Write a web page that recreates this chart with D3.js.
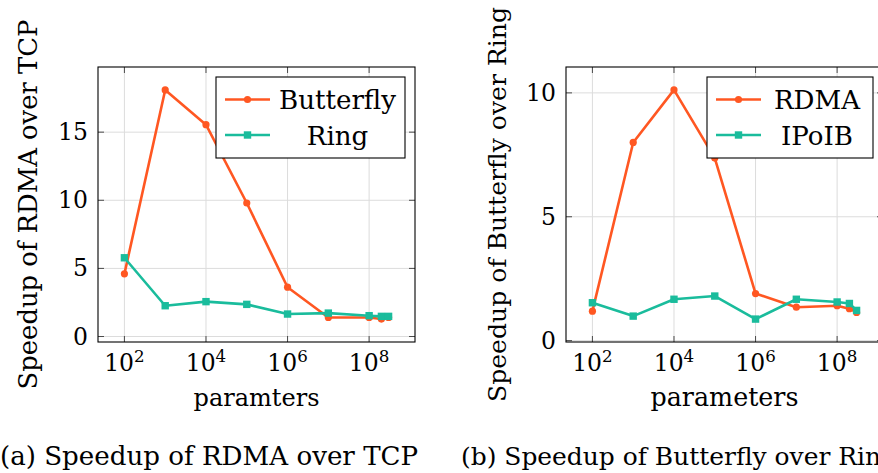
<!DOCTYPE html>
<html>
<head>
<meta charset="utf-8">
<script src="https://cdn.jsdelivr.net/npm/d3@7"></script>
<style>
  body { margin: 0; background: #fff; }
  svg { display: block; }
  text { font-family: "DejaVu Serif", "Liberation Serif", "Noto Serif", serif; fill: #000; }
</style>
</head>
<body>
<svg id="chart" width="878" height="473"></svg>
<script>
// Model sizes (number of parameters) used for every measurement
const params = [1e2, 1e3, 1e4, 1e5, 1e6, 1e7, 1e8, 2e8, 3e8];

// (a) speedup of RDMA over TCP, per allreduce algorithm
const butterflyRdmaOverTcp = [4.6, 18.1, 15.55, 9.8, 3.62, 1.40, 1.40, 1.28, 1.40];
const ringRdmaOverTcp      = [5.78, 2.26, 2.56, 2.36, 1.65, 1.72, 1.53, 1.48, 1.48];

// (b) speedup of Butterfly over Ring, per transport
const rdmaButterflyOverRing  = [1.19, 8.0, 10.12, 7.37, 1.90, 1.35, 1.41, 1.29, 1.14];
const ipoibButterflyOverRing = [1.53, 0.99, 1.67, 1.80, 0.87, 1.67, 1.56, 1.50, 1.22];

// Axis ticks and labels
const xTickExponents = [2, 4, 6, 8];
const yTicksA = [0, 5, 10, 15];
const yTicksB = [0, 5, 10];

const ORANGE = "#ff5722";
const TEAL = "#1abc9c";

const svg = d3.select("#chart");

// Base text size: the first caption should span about 418px in the available serif face
const probe = svg.append("text").attr("font-size", 30).text("(a) Speedup of RDMA over TCP");
const FS = 30 * 418 / probe.node().getComputedTextLength();
probe.remove();
const TICK_FS = FS * 0.9;
const SUP_FS = FS * 0.64;

// Resize a text so it spans the given width
function fitWidth(sel, width) {
  const w = sel.node().getComputedTextLength();
  const fs = +sel.attr("font-size");
  sel.attr("font-size", fs * width / w);
  return sel;
}

const panels = [
  {
    frame: { left: 98, top: 67, right: 415, bottom: 342 },
    series: [
      { name: "Butterfly", values: butterflyRdmaOverTcp, color: ORANGE, marker: "circle" },
      { name: "Ring", values: ringRdmaOverTcp, color: TEAL, marker: "square" }
    ],
    yTicks: yTicksA,
    yTitle: "Speedup of RDMA over TCP",
    yTitleW: 370,
    yTitleX: 37,
    xTitle: "paramters",
    xTitleW: 126,
    caption: "(a) Speedup of RDMA over TCP",
    captionW: 418,
    captionX: 0,
    legend: { x: 216, y: 77, w: 189, h: 81 }
  },
  {
    frame: { left: 566, top: 67, right: 883, bottom: 342 },
    series: [
      { name: "RDMA", values: rdmaButterflyOverRing, color: ORANGE, marker: "circle" },
      { name: "IPoIB", values: ipoibButterflyOverRing, color: TEAL, marker: "square" }
    ],
    yTicks: yTicksB,
    yTitle: "Speedup of Butterfly over Ring",
    yTitleW: 395,
    yTitleX: 506,
    xTitle: "parameters",
    xTitleW: 148,
    caption: "(b) Speedup of Butterfly over Ring",
    captionW: 436,
    captionX: 461,
    legend: { x: 707, y: 77, w: 166, h: 81 }
  }
];

// Limits enlarged by 10% of the data range on each side
function enlarged(lo, hi) {
  const pad = (hi - lo) * 0.1;
  return [lo - pad, hi + pad];
}

function drawMarker(g, type, x, y, color) {
  if (type === "circle") {
    g.append("circle").attr("cx", x).attr("cy", y).attr("r", 3.6).attr("fill", color);
  } else {
    const s = 7.4;
    g.append("rect").attr("x", x - s / 2).attr("y", y - s / 2)
      .attr("width", s).attr("height", s).attr("fill", color);
  }
}

panels.forEach(p => {
  const f = p.frame;
  const g = svg.append("g");

  const lx = enlarged(Math.log10(d3.min(params)), Math.log10(d3.max(params)));
  const x = d3.scaleLog().domain([10 ** lx[0], 10 ** lx[1]]).range([f.left, f.right]);

  const all = p.series.flatMap(s => s.values);
  const y = d3.scaleLinear().domain(enlarged(d3.min(all), d3.max(all))).range([f.bottom, f.top]);

  const xTicks = xTickExponents.map(e => 10 ** e);

  // grid
  const grid = g.append("g").attr("stroke", "#dcdcdc").attr("stroke-width", 1);
  xTicks.forEach(t => grid.append("line")
    .attr("x1", x(t)).attr("x2", x(t)).attr("y1", f.top).attr("y2", f.bottom));
  p.yTicks.forEach(t => grid.append("line")
    .attr("x1", f.left).attr("x2", f.right).attr("y1", y(t)).attr("y2", y(t)));

  // tick marks on all four sides, pointing inward
  const tl = 6;
  const ticks = g.append("g").attr("stroke", "#4a4a4a").attr("stroke-width", 1);
  xTicks.forEach(t => {
    ticks.append("line").attr("x1", x(t)).attr("x2", x(t)).attr("y1", f.bottom).attr("y2", f.bottom - tl);
    ticks.append("line").attr("x1", x(t)).attr("x2", x(t)).attr("y1", f.top).attr("y2", f.top + tl);
  });
  p.yTicks.forEach(t => {
    ticks.append("line").attr("x1", f.left).attr("x2", f.left + tl).attr("y1", y(t)).attr("y2", y(t));
    ticks.append("line").attr("x1", f.right).attr("x2", f.right - tl).attr("y1", y(t)).attr("y2", y(t));
  });

  // frame
  g.append("rect")
    .attr("x", f.left).attr("y", f.top)
    .attr("width", f.right - f.left).attr("height", f.bottom - f.top)
    .attr("fill", "none").attr("stroke", "#000").attr("stroke-width", 1.1);

  // x tick labels 10^n
  xTickExponents.forEach(e => {
    const t = g.append("text")
      .attr("x", x(10 ** e)).attr("y", 371)
      .attr("text-anchor", "middle").attr("font-size", TICK_FS);
    t.append("tspan").text("10");
    t.append("tspan").attr("dy", -9.5).attr("font-size", SUP_FS).text(e);
  });

  // y tick labels
  p.yTicks.forEach(t => {
    g.append("text")
      .attr("x", f.left - 10).attr("y", y(t) + 8)
      .attr("text-anchor", "end").attr("font-size", TICK_FS)
      .text(t);
  });

  // axis titles
  fitWidth(g.append("text")
    .attr("x", (f.left + f.right) / 2).attr("y", 406)
    .attr("text-anchor", "middle").attr("font-size", FS)
    .text(p.xTitle), p.xTitleW);

  fitWidth(g.append("text")
    .attr("transform", `translate(${p.yTitleX},${(f.top + f.bottom) / 2}) rotate(-90)`)
    .attr("text-anchor", "middle").attr("font-size", FS)
    .text(p.yTitle), p.yTitleW);

  // caption
  fitWidth(svg.append("text")
    .attr("x", p.captionX).attr("y", 465)
    .attr("font-size", FS)
    .text(p.caption), p.captionW);

  // series
  const line = d3.line().x(d => x(d[0])).y(d => y(d[1]));
  p.series.forEach(s => {
    const pts = params.map((v, i) => [v, s.values[i]]);
    g.append("path").datum(pts)
      .attr("d", line).attr("fill", "none")
      .attr("stroke", s.color).attr("stroke-width", 2.6)
      .attr("stroke-linejoin", "round");
    const mg = g.append("g");
    pts.forEach(d => drawMarker(mg, s.marker, x(d[0]), y(d[1]), s.color));
  });

  // legend
  const L = p.legend;
  const lg = g.append("g");
  lg.append("rect")
    .attr("x", L.x).attr("y", L.y).attr("width", L.w).attr("height", L.h)
    .attr("fill", "#fff").attr("stroke", "#000").attr("stroke-width", 1.1);
  const rowY = [L.y + 22.5, L.y + 58];
  const sampleX = L.x + 9;
  const sampleW = 45;
  const textCenter = L.x + sampleW + 9 + (L.w - sampleW - 9) / 2;
  p.series.forEach((s, i) => {
    const ry = rowY[i];
    lg.append("line")
      .attr("x1", sampleX).attr("x2", sampleX + sampleW)
      .attr("y1", ry).attr("y2", ry)
      .attr("stroke", s.color).attr("stroke-width", 2.6);
    drawMarker(lg, s.marker, sampleX + sampleW / 2, ry, s.color);
    lg.append("text")
      .attr("x", textCenter).attr("y", ry + 9.5)
      .attr("text-anchor", "middle").attr("font-size", FS)
      .text(s.name);
  });
});
</script>
</body>
</html>
